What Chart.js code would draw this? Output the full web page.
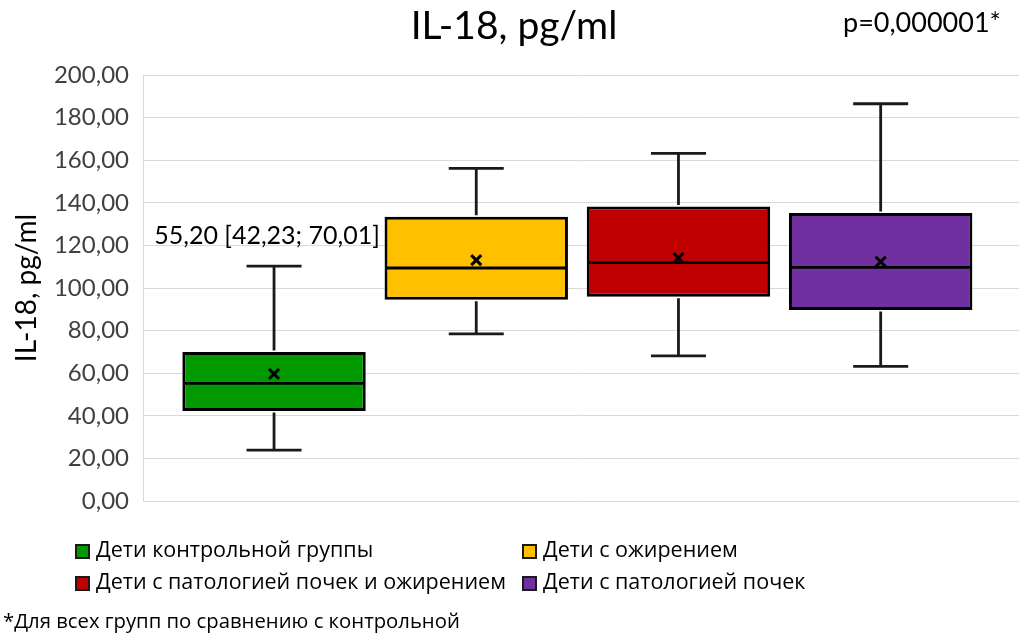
<!DOCTYPE html>
<html>
<head>
<meta charset="utf-8">
<script src="https://cdn.jsdelivr.net/npm/chart.js@4/dist/chart.umd.min.js"></script>
<style>
  body { margin: 0; background: #fff; }
  #wrap { position: relative; width: 1019px; height: 635px; overflow: hidden; background: #fff; }
  #c { position: absolute; left: 0; top: 0; }
  .txt { position: absolute; white-space: nowrap; color: #000; }
  #title { left: 0; width: 1028px; text-align: center; top: 1px; font: 39px Lato, "Open Sans", sans-serif; line-height: 1.2; }
  #pval { left: 843px; top: 6px; font: 27px Lato, "Open Sans", sans-serif; line-height: 1.2; }
  .leg { position: absolute; height: 30px; line-height: 30px; font: 21.5px "Open Sans", sans-serif; color: #000; white-space: nowrap; }
  .leg i { position: absolute; left: 0; top: 10px; width: 11px; height: 11px; border: 2px solid #1a1a1a; }
  .leg span { position: absolute; left: 21px; top: 0; }
  #note { left: 3px; top: 605px; font: 20.3px "Open Sans", sans-serif; line-height: 30px; }
</style>
</head>
<body>
<div id="wrap">
  <canvas id="c" width="1019" height="635"></canvas>
  <div class="txt" id="title">IL-18, pg/ml</div>
  <div class="txt" id="pval">p=0,000001*</div>
  <div id="legend"></div>
  <div class="txt" id="note">*Для всех групп по сравнению с контрольной</div>
</div>
<script>
// Groups and their box-plot statistics (IL-18, pg/ml)
const groups = [
  'Дети контрольной группы',
  'Дети с ожирением',
  'Дети с патологией почек и ожирением',
  'Дети с патологией почек'
];
const minValues    = [23.9, 78.5, 68.1, 63.2];
const q1Values     = [42.23, 94.5, 95.9, 89.7];
const medianValues = [55.20, 109.4, 111.9, 109.7];
const q3Values     = [70.01, 133.5, 138.3, 135.2];
const maxValues    = [110.3, 156.2, 163.2, 186.5];
const meanValues   = [59.6, 113.1, 114.1, 112.3];

// Box fills
const boxColors = ['#009900', '#FFC000', '#C00000', '#7030A0'];

const fmt = v => v.toFixed(2).replace('.', ',');

// Legend: two columns, two rows
const legendPos = [[75, 534], [522, 534], [75, 566], [522, 566]];
const legendEl = document.getElementById('legend');
groups.forEach((g, i) => {
  const d = document.createElement('div');
  d.className = 'leg';
  d.style.left = legendPos[i][0] + 'px';
  d.style.top = legendPos[i][1] + 'px';
  d.innerHTML = '<i style="background:' + boxColors[i] + '"></i><span></span>';
  d.querySelector('span').textContent = g;
  legendEl.appendChild(d);
});

// Whiskers, medians, means and the control-group label
const boxPlugin = {
  id: 'boxWhiskers',
  afterDatasetsDraw(chart) {
    const ctx = chart.ctx;
    const y = chart.scales.y;
    ctx.save();
    chart.data.datasets.forEach((ds, i) => {
      const bar = chart.getDatasetMeta(i).data[0];
      const cx = bar.x;
      const half = bar.width / 2;
      const cap = bar.width * 0.15;
      const yMin = y.getPixelForValue(minValues[i]);
      const yMax = y.getPixelForValue(maxValues[i]);
      const yQ1 = y.getPixelForValue(q1Values[i]);
      const yQ3 = y.getPixelForValue(q3Values[i]);
      const yMed = y.getPixelForValue(medianValues[i]);
      const yMean = y.getPixelForValue(meanValues[i]);

      ctx.strokeStyle = '#1a1a1a';
      ctx.lineWidth = 2.8;
      ctx.lineCap = 'butt';
      ctx.beginPath();
      ctx.moveTo(cx, yQ3 - 1.5); ctx.lineTo(cx, yMax);
      ctx.moveTo(cx - cap, yMax); ctx.lineTo(cx + cap, yMax);
      ctx.moveTo(cx, yQ1 + 1.5); ctx.lineTo(cx, yMin);
      ctx.moveTo(cx - cap, yMin); ctx.lineTo(cx + cap, yMin);
      ctx.stroke();

      ctx.strokeStyle = '#000';
      ctx.lineWidth = 2.8;
      ctx.beginPath();
      ctx.moveTo(cx - half + 1.5, yMed); ctx.lineTo(cx + half - 1.5, yMed);
      ctx.stroke();

      const m = 5;
      ctx.lineWidth = 3;
      ctx.beginPath();
      ctx.moveTo(cx - m, yMean - m); ctx.lineTo(cx + m, yMean + m);
      ctx.moveTo(cx + m, yMean - m); ctx.lineTo(cx - m, yMean + m);
      ctx.stroke();
    });

    // median [Q1; Q3] of the control group
    const b0 = chart.getDatasetMeta(0).data[0];
    ctx.fillStyle = '#000';
    ctx.font = '25px Lato, "Open Sans", sans-serif';
    ctx.textAlign = 'center';
    ctx.textBaseline = 'middle';
    ctx.fillText(fmt(medianValues[0]) + ' [' + fmt(q1Values[0]) + '; ' + fmt(q3Values[0]) + ']',
      b0.x - 7, y.getPixelForValue(124.5));
    ctx.restore();
  }
};

const datasets = groups.map((g, i) => ({
  label: g,
  data: [{ x: i + 1, y: [q1Values[i], q3Values[i]] }],
  backgroundColor: boxColors[i],
  borderColor: '#000',
  borderWidth: 3,
  borderSkipped: false,
  grouped: false,
  categoryPercentage: 1,
  barPercentage: 0.907
}));

new Chart(document.getElementById('c'), {
  type: 'bar',
  data: { datasets },
  options: {
    responsive: false,
    animation: false,
    layout: { padding: { top: 75, right: 0, bottom: 134, left: 0 } },
    plugins: { legend: { display: false }, tooltip: { enabled: false } },
    scales: {
      x: { type: 'linear', min: 0.352, max: 4.684, offset: false, display: false, ticks: { stepSize: 10 } },
      y: {
        min: 0, max: 200,
        afterFit(s) { s.width = 143; },
        border: { color: '#d9d9d9', width: 1 },
        grid: { color: '#d9d9d9', lineWidth: 1, drawTicks: false },
        ticks: {
          stepSize: 20, padding: 14, color: '#404040',
          font: { family: 'Lato, "Open Sans", sans-serif', size: 24 },
          callback: v => fmt(v)
        },
        title: {
          display: true, text: 'IL-18, pg/ml', color: '#000',
          font: { family: 'Lato, "Open Sans", sans-serif', size: 28 },
          padding: { top: 10, bottom: 0 }
        }
      }
    }
  },
  plugins: [boxPlugin]
});
</script>
</body>
</html>
